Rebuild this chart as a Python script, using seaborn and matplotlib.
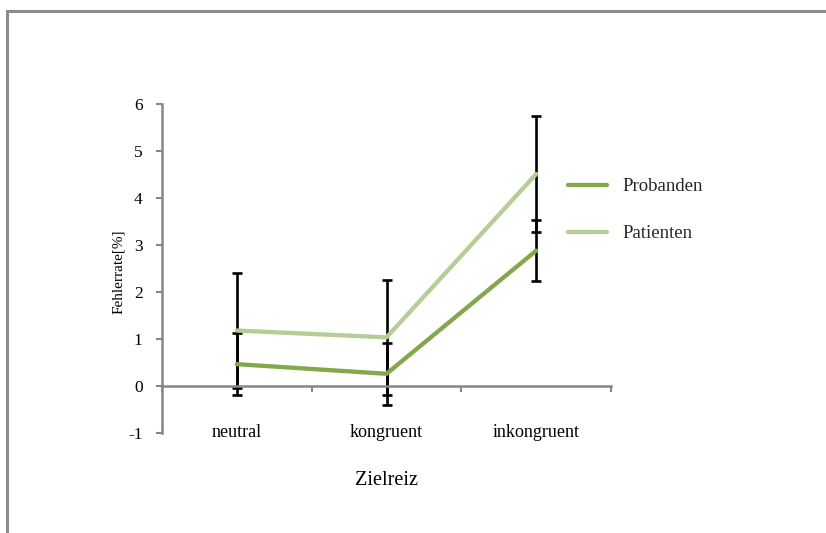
import matplotlib
matplotlib.use("Agg")
import matplotlib.pyplot as plt
from matplotlib.lines import Line2D
from matplotlib.patches import Rectangle
from matplotlib.ticker import FixedLocator
import numpy as np
import pandas as pd
import seaborn as sns

# Error rate per target stimulus, mean and error-bar half widths
categories = ["neutral", "kongruent", "inkongruent"]
groups = ["Probanden", "Patienten"]
probanden = [0.465, 0.26, 2.88]
patienten = [1.18, 1.035, 4.51]
probanden_err = [0.655, 0.66, 0.655]
patienten_err = [1.22, 1.225, 1.235]
y_ticks = [-1, 0, 1, 2, 3, 4, 5, 6]

colors = {"Probanden": "#82A84A", "Patienten": "#B5CE95"}
axis_grey = "#868686"

sns.set_theme(style="white")
plt.rcParams["font.family"] = ["Liberation Serif", "DejaVu Serif"]

df = pd.DataFrame({
    "Zielreiz": categories * 2,
    "Fehlerrate": probanden + patienten,
    "Gruppe": [groups[0]] * 3 + [groups[1]] * 3,
})

fig = plt.figure(figsize=(8.26, 5.33), dpi=100)
ax = fig.add_axes([162 / 826, 1 - 433 / 533, 449 / 826, 329 / 533])

# Error bars first so the coloured lines sit on top of them
x_pos = np.arange(len(categories))
for means, errs in [(probanden, probanden_err), (patienten, patienten_err)]:
    ax.errorbar(x_pos, means, yerr=errs, fmt="none", ecolor="black",
                elinewidth=1.9, capsize=3.8, capthick=1.9, zorder=2)

sns.lineplot(data=df, x="Zielreiz", y="Fehlerrate", hue="Gruppe",
             palette=colors, linewidth=3.1, sort=False, legend=False,
             ax=ax, zorder=3)

ax.set_xlim(-0.5, len(categories) - 0.5)
ax.set_ylim(-1, 6)
ax.set_yticks(y_ticks)
ax.set_yticklabels([str(t) for t in y_ticks])

# Category axis crosses at zero, boundary ticks between categories
ax.spines["bottom"].set_position(("data", 0))
ax.spines["top"].set_visible(False)
ax.spines["right"].set_visible(False)
for side in ["bottom", "left"]:
    ax.spines[side].set_color(axis_grey)
    ax.spines[side].set_linewidth(1.8)

ax.set_xticks(x_pos)
ax.set_xticklabels(categories)
ax.xaxis.set_minor_locator(FixedLocator(np.arange(len(categories) + 1) - 0.5))
ax.tick_params(axis="x", which="major", length=0, pad=27.5, labelsize=13,
               labelcolor="black")
ax.tick_params(axis="x", which="minor", length=4, width=1.5, color=axis_grey,
               direction="out", bottom=True)
ax.tick_params(axis="y", which="major", length=4, width=1.5, color=axis_grey,
               direction="out", left=True, pad=10, labelsize=12.5,
               labelcolor="black")

ax.set_xlabel("Zielreiz", fontsize=14.5, color="black")
ax.xaxis.set_label_coords(0.501, -0.116)
ax.set_ylabel("Fehlerrate[%]", fontsize=11, color="black")
ax.yaxis.set_label_coords(-0.082, 0.49)

handles = [Line2D([], [], color=colors[g], lw=3.1) for g in groups]
fig.legend(handles, groups, loc="upper left",
           bbox_to_anchor=(568 / 826, 1 - 178 / 533),
           bbox_transform=fig.transFigure, frameon=False, fontsize=13.5,
           handlelength=2.08, handletextpad=0.85, labelspacing=1.6,
           borderpad=0, borderaxespad=0)

# Outer chart frame
fig.add_artist(Rectangle((6.5 / 826, -0.1), 1.2, 1.1 - 11 / 533,
                         transform=fig.transFigure, fill=False,
                         edgecolor="#8c8c8c", lw=2.2))

fig.savefig("out.png", dpi=100)
